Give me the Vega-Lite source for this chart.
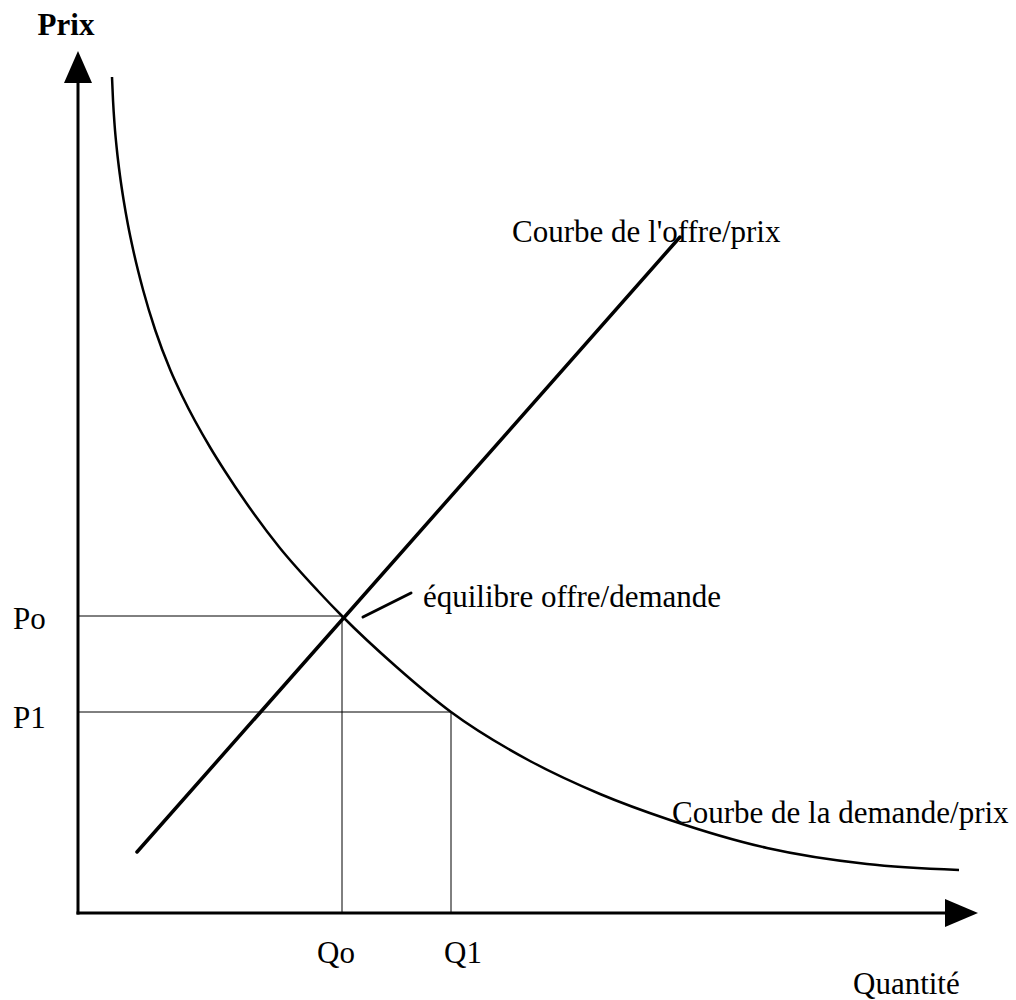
{
  "$schema": "https://vega.github.io/schema/vega-lite/v6.json",
  "width": 1016,
  "height": 1000,
  "autosize": {"type": "fit", "contains": "padding"},
  "padding": 0,
  "background": "white",
  "config": {"view": {"stroke": null}},
  "datasets": {
    "axes": [
      {"axe": "prix", "q": 0, "p": 0, "q_fin": 0, "p_fin": 831},
      {"axe": "quantite", "q": 0, "p": 0, "q_fin": 868, "p_fin": 0}
    ],
    "fleches": [
      {"axe": "prix", "q": 0, "p": 846},
      {"axe": "quantite", "q": 883.5, "p": 0}
    ],
    "reperes": [
      {"nom": "Po", "q": 0, "p": 297, "q_fin": 264, "p_fin": 297},
      {"nom": "Qo", "q": 264, "p": 0, "q_fin": 264, "p_fin": 297},
      {"nom": "P1", "q": 0, "p": 201, "q_fin": 373, "p_fin": 201},
      {"nom": "Q1", "q": 373, "p": 0, "q_fin": 373, "p_fin": 201}
    ],
    "demande": [
      {"q": 34, "p": 836},
      {"q": 35, "p": 813},
      {"q": 36.6, "p": 788},
      {"q": 38.9, "p": 763},
      {"q": 41.9, "p": 738},
      {"q": 45.6, "p": 713},
      {"q": 50, "p": 688},
      {"q": 55.2, "p": 663},
      {"q": 65.1, "p": 623},
      {"q": 77.2, "p": 583},
      {"q": 92.3, "p": 543},
      {"q": 104.7, "p": 516},
      {"q": 131.9, "p": 466},
      {"q": 146.2, "p": 443},
      {"q": 168.3, "p": 410},
      {"q": 201.1, "p": 366},
      {"q": 240, "p": 322},
      {"q": 264, "p": 297},
      {"q": 318, "p": 246.5},
      {"q": 373, "p": 201},
      {"q": 452, "p": 152},
      {"q": 522, "p": 119},
      {"q": 592, "p": 93},
      {"q": 689, "p": 65},
      {"q": 789, "p": 49},
      {"q": 881, "p": 43}
    ],
    "offre": [
      {"q": 59, "p": 61},
      {"q": 602, "p": 676}
    ],
    "indicateur": [
      {"q": 285, "p": 296},
      {"q": 333, "p": 320}
    ],
    "etiquettes_gauche": [
      {"texte": "Po", "q": -65, "p": 284},
      {"texte": "P1", "q": -65, "p": 185},
      {"texte": "Q1", "q": 366, "p": -50},
      {"texte": "Quantité", "q": 775, "p": -81},
      {"texte": "Courbe de l'offre/prix", "q": 434, "p": 671},
      {"texte": "équilibre offre/demande", "q": 345, "p": 306},
      {"texte": "Courbe de la demande/prix", "q": 594, "p": 90}
    ],
    "etiquettes_centre": [
      {"texte": "Qo", "q": 258, "p": -50}
    ],
    "titre": [
      {"texte": "Prix", "q": -12, "p": 878}
    ]
  },
  "layer": [
    {
      "data": {"name": "reperes"},
      "mark": {"type": "rule", "color": "black", "strokeWidth": 1},
      "encoding": {
        "x": {"field": "q", "type": "quantitative", "scale": {"domain": [-78, 938], "nice": false, "zero": false}, "axis": null},
        "y": {"field": "p", "type": "quantitative", "scale": {"domain": [-87, 913], "nice": false, "zero": false}, "axis": null},
        "x2": {"field": "q_fin"},
        "y2": {"field": "p_fin"}
      }
    },
    {
      "data": {"name": "axes"},
      "mark": {"type": "rule", "color": "black", "strokeWidth": 3, "strokeCap": "square"},
      "encoding": {
        "x": {"field": "q", "type": "quantitative"},
        "y": {"field": "p", "type": "quantitative"},
        "x2": {"field": "q_fin"},
        "y2": {"field": "p_fin"}
      }
    },
    {
      "data": {"name": "fleches"},
      "transform": [{"filter": "datum.axe === 'prix'"}],
      "mark": {"type": "point", "shape": "M0,-1L0.875,1L-0.875,1Z", "size": 1024, "filled": true, "color": "black", "opacity": 1},
      "encoding": {
        "x": {"field": "q", "type": "quantitative"},
        "y": {"field": "p", "type": "quantitative"}
      }
    },
    {
      "data": {"name": "fleches"},
      "transform": [{"filter": "datum.axe === 'quantite'"}],
      "mark": {"type": "point", "shape": "M1,0L-1,-0.85L-1,0.85Z", "size": 1089, "filled": true, "color": "black", "opacity": 1},
      "encoding": {
        "x": {"field": "q", "type": "quantitative"},
        "y": {"field": "p", "type": "quantitative"}
      }
    },
    {
      "data": {"name": "demande"},
      "mark": {"type": "line", "color": "black", "strokeWidth": 2.5, "interpolate": "monotone"},
      "encoding": {
        "x": {"field": "q", "type": "quantitative"},
        "y": {"field": "p", "type": "quantitative"}
      }
    },
    {
      "data": {"name": "offre"},
      "mark": {"type": "line", "color": "black", "strokeWidth": 3.5, "strokeCap": "round"},
      "encoding": {
        "x": {"field": "q", "type": "quantitative"},
        "y": {"field": "p", "type": "quantitative"}
      }
    },
    {
      "data": {"name": "indicateur"},
      "mark": {"type": "line", "color": "black", "strokeWidth": 3, "strokeCap": "round"},
      "encoding": {
        "x": {"field": "q", "type": "quantitative"},
        "y": {"field": "p", "type": "quantitative"}
      }
    },
    {
      "data": {"name": "etiquettes_gauche"},
      "mark": {"type": "text", "align": "left", "baseline": "alphabetic", "font": "Liberation Serif", "fontSize": 31, "color": "black"},
      "encoding": {
        "x": {"field": "q", "type": "quantitative"},
        "y": {"field": "p", "type": "quantitative"},
        "text": {"field": "texte"}
      }
    },
    {
      "data": {"name": "etiquettes_centre"},
      "mark": {"type": "text", "align": "center", "baseline": "alphabetic", "font": "Liberation Serif", "fontSize": 31, "color": "black"},
      "encoding": {
        "x": {"field": "q", "type": "quantitative"},
        "y": {"field": "p", "type": "quantitative"},
        "text": {"field": "texte"}
      }
    },
    {
      "data": {"name": "titre"},
      "mark": {"type": "text", "align": "center", "baseline": "alphabetic", "font": "Liberation Serif", "fontSize": 31, "fontWeight": "bold", "color": "black"},
      "encoding": {
        "x": {"field": "q", "type": "quantitative"},
        "y": {"field": "p", "type": "quantitative"},
        "text": {"field": "texte"}
      }
    }
  ]
}
